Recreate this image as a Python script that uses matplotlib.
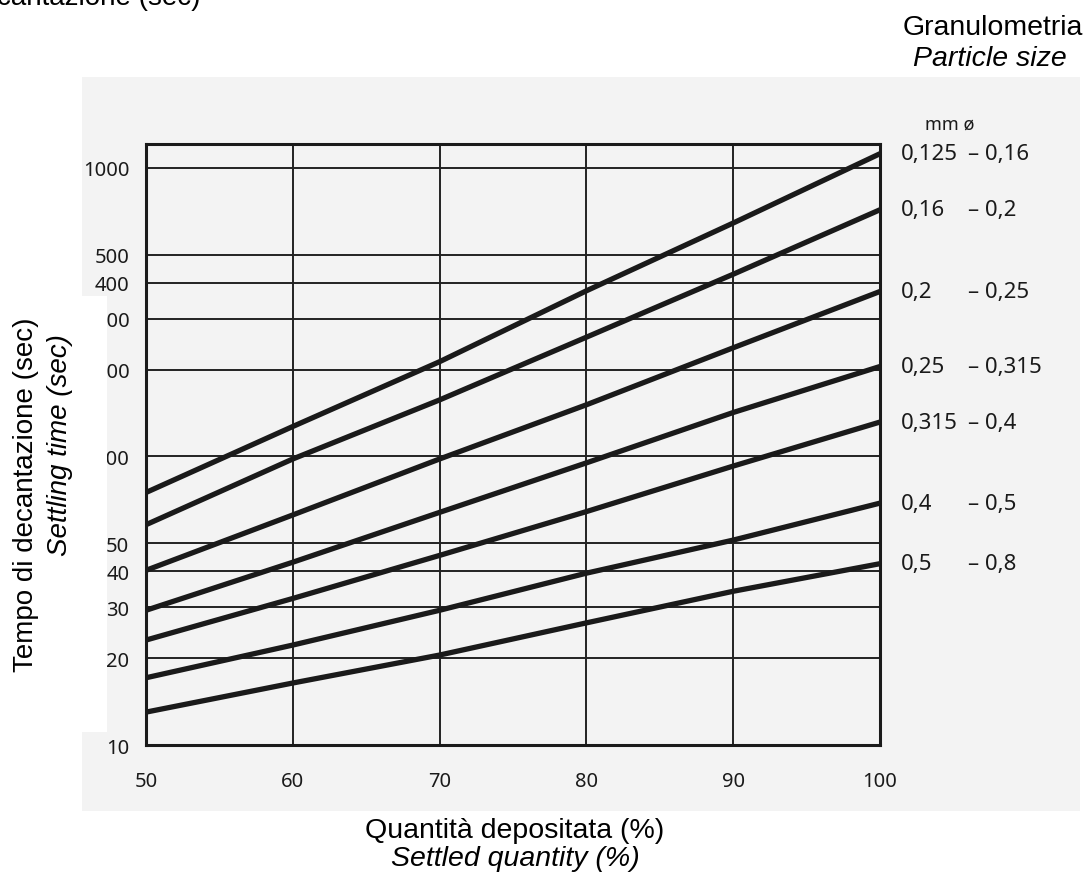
import matplotlib
matplotlib.use("Agg")
import matplotlib.pyplot as plt
import matplotlib.transforms as mtransforms
from matplotlib.patches import Rectangle

# settled quantity (%) vs settling time (sec), one line per particle size class
quantity = [50, 60, 70, 80, 90, 100]
size_from = ["0,125", "0,16", "0,2", "0,25", "0,315", "0,4", "0,5"]
size_to = ["0,16", "0,2", "0,25", "0,315", "0,4", "0,5", "0,8"]
settling_time = [
    [75, 127, 213, 375, 644, 1120],
    [58, 98, 157, 259, 428, 716],
    [40.3, 62.7, 98, 151, 238, 373],
    [29.3, 43, 64, 95, 142, 205],
    [23.1, 32.2, 45.4, 64.4, 92.6, 131.6],
    [17.1, 22.2, 29.3, 39.4, 51.3, 68.9],
    [13.0, 16.4, 20.5, 26.5, 34.1, 42.5],
]
x_ticks = [50, 60, 70, 80, 90, 100]
y_ticks = [10, 20, 30, 40, 50, 100, 200, 300, 400, 500, 1000]

W, H = 1087, 879
fig = plt.figure(figsize=(W / 100, H / 100), dpi=100)
fig.patch.set_facecolor("white")

# scanned paper background
fig.patches.append(Rectangle((82 / W, 1 - 812 / H), (1080 - 82) / W, (812 - 78) / H,
                             transform=fig.transFigure, facecolor="#f3f3f3",
                             edgecolor="none", zorder=-5))

ax = fig.add_axes([146 / W, 1 - 746 / H, (880 - 146) / W, (746 - 145) / H])
ax.set_facecolor("none")
ax.set_zorder(1)
ax.set_yscale("log")
ax.set_xlim(50, 100)
ax.set_ylim(10, 1210)

for ys in settling_time:
    ax.plot(quantity, ys, color="#1a1a1a", lw=3.8, solid_capstyle="butt", zorder=3)

ax.set_xticks(x_ticks)
ax.set_xticklabels([str(v) for v in x_ticks])
ax.set_yticks(y_ticks)
ax.set_yticklabels([str(v) for v in y_ticks])
ax.yaxis.set_minor_locator(matplotlib.ticker.NullLocator())
ax.grid(True, color="#222222", lw=1.4, zorder=1)
ax.tick_params(length=0, labelsize=14.5, colors="#1a1a1a")
ax.tick_params(axis="x", pad=19)
ax.tick_params(axis="y", pad=12)
for lab in ax.get_xticklabels() + ax.get_yticklabels():
    lab.set_family("Noto Sans")
for s in ax.spines.values():
    s.set_linewidth(2.2)
    s.set_color("#1a1a1a")

# particle size labels at the end of each line
trans = mtransforms.blended_transform_factory(fig.transFigure, ax.transData)
for a, b, ys in zip(size_from, size_to, settling_time):
    ax.text(901 / W, ys[-1], a, transform=trans, ha="left", va="center",
            fontsize=16, family="Noto Sans", color="#1a1a1a", clip_on=False)
    ax.text(968 / W, ys[-1], "\u2013 " + b, transform=trans, ha="left", va="center",
            fontsize=16, family="Noto Sans", color="#1a1a1a", clip_on=False)
fig.text(950 / W, 1 - 125 / H, "mm \u00f8", ha="center", va="center",
         fontsize=13, family="Noto Sans", color="#1a1a1a")

# white box over the left part of the scan (hides first digits of some ticks)
fig.patches.append(Rectangle((0, 1 - 733 / H), 107 / W, (733 - 297) / H,
                             transform=fig.transFigure, facecolor="white",
                             edgecolor="none", zorder=5))

fig.text(26 / W, 1 - 495 / H, "Tempo di decantazione (sec)", rotation=90,
         ha="center", va="center", fontsize=20, family="Liberation Sans", zorder=6)
fig.text(60 / W, 1 - 445 / H, "Settling time (sec)", rotation=90, style="italic",
         ha="center", va="center", fontsize=20, family="Liberation Sans", zorder=6)
fig.text(515 / W, 1 - 838 / H, "Quantità depositata (%)", ha="center", va="baseline",
         fontsize=20.5, family="Liberation Sans")
fig.text(515 / W, 1 - 866 / H, "Settled quantity (%)", ha="center", va="baseline",
         fontsize=20.5, family="Liberation Sans", style="italic")
fig.text(993 / W, 1 - 35 / H, "Granulometria", ha="center", va="baseline",
         fontsize=20.5, family="Liberation Sans")
fig.text(990 / W, 1 - 66 / H, "Particle size", ha="center", va="baseline",
         fontsize=20.5, family="Liberation Sans", style="italic")
# title cut off at the top edge, as in the scan
fig.text(200 / W, 1 - 5 / H, "Tempo di decantazione (sec)", ha="right", va="baseline",
         fontsize=20, family="Liberation Sans")

fig.savefig("out.png", dpi=100)
